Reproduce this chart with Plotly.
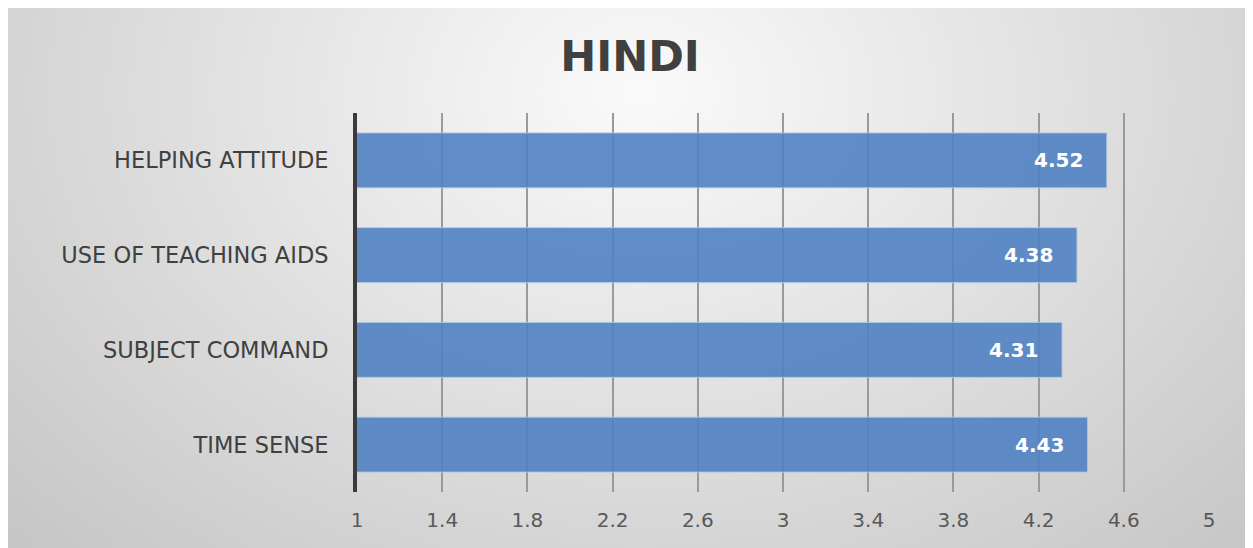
import base64, struct, zlib
import numpy as np
import plotly.graph_objects as go

# ---- data ----
categories = ["HELPING ATTITUDE", "USE OF TEACHING AIDS", "SUBJECT COMMAND", "TIME SENSE"]
scores = [4.52, 4.38, 4.31, 4.43]
tick_vals = [1, 1.4, 1.8, 2.2, 2.6, 3, 3.4, 3.8, 4.2, 4.6, 5]
tick_text = ["1", "1.4", "1.8", "2.2", "2.6", "3", "3.4", "3.8", "4.2", "4.6", "5"]
title_text = "HINDI"

# ---- geometry (figure is placed 8px in from the page's top-left by the body margin) ----
OFF = 8
W, H = 1253 - OFF, 548 - OFF
L, T = 357 - OFF, 113 - OFF
R = W - (1209 - OFF)
B = H - (492 - OFF)
pw, ph = W - L - R, H - T - B

FONT = "DejaVu Sans, sans-serif"

# ---- radial gradient background as embedded PNG ----
def png_uri(arr):
    h, w, _ = arr.shape
    raw = b"".join(b"\x00" + arr[i].tobytes() for i in range(h))
    def chunk(t, d):
        return struct.pack(">I", len(d)) + t + d + struct.pack(">I", zlib.crc32(t + d) & 0xffffffff)
    png = (b"\x89PNG\r\n\x1a\n" + chunk(b"IHDR", struct.pack(">IIBBBBB", w, h, 8, 2, 0, 0, 0))
           + chunk(b"IDAT", zlib.compress(raw, 9)) + chunk(b"IEND", b""))
    return "data:image/png;base64," + base64.b64encode(png).decode()

gw, gh = 312, 136
xx, yy = np.meshgrid(np.linspace(0, W, gw), np.linspace(0, H, gh))
d = np.sqrt(((xx - (640 - OFF)) / 700.0) ** 2 + ((yy - (90 - OFF)) / 520.0) ** 2)
g = np.clip(251 - 42 * d, 188, 252).astype(np.uint8)
bg = np.stack([g, g, g], axis=-1)
bg_uri = png_uri(bg)

fig = go.Figure()
fig.add_trace(go.Bar(
    y=categories, x=scores, orientation="h",
    marker=dict(color="rgba(80,130,195,0.9)", line=dict(color="rgba(175,200,232,0.9)", width=1)),
    hoverinfo="x+y",
))

annotations = []
for c, v in zip(categories, scores):
    annotations.append(dict(
        x=v, y=c, xref="x", yref="y", text=f"<b>{v:.2f}</b>", showarrow=False,
        xanchor="right", yanchor="middle", xshift=-22,
        font=dict(family=FONT, size=20, color="white"),
    ))

fig.update_layout(
    width=W, height=H,
    margin=dict(l=L, r=R, t=T, b=B),
    paper_bgcolor="white", plot_bgcolor="rgba(0,0,0,0)",
    showlegend=False,
    bargap=0.42,
    title=dict(text=f"<b>{title_text}</b>", x=(630 - OFF) / W, xref="container", xanchor="center",
               y=1 - (56 - OFF) / H, yref="container", yanchor="middle",
               font=dict(family=FONT, size=43, color="#404040")),
    xaxis=dict(range=[1, 5], tickvals=tick_vals, ticktext=tick_text, showgrid=True,
               gridcolor="#9a9a9a", gridwidth=2, zeroline=False, showline=False,
               ticks="", ticklabelstandoff=14, automargin=False,
               tickfont=dict(family=FONT, size=20, color="#595959")),
    yaxis=dict(categoryorder="array", categoryarray=categories[::-1], showgrid=False,
               zeroline=False, showline=True, linewidth=4, linecolor="#3a3a3a",
               ticks="", ticklabelstandoff=20, automargin=False,
               tickfont=dict(family=FONT, size=22.5, color="#404040")),
    annotations=annotations,
    images=[dict(source=bg_uri, xref="paper", yref="paper",
                 x=-L / pw, y=(H - B) / ph, sizex=W / pw, sizey=H / ph,
                 xanchor="left", yanchor="top", sizing="stretch", layer="below")],
)

fig.write_html("out.html")
